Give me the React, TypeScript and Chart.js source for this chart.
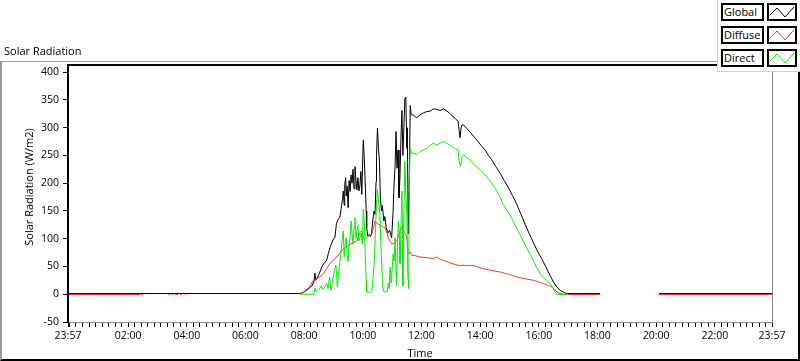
import React, { useEffect, useRef } from 'react';
import { Chart, registerables } from 'chart.js';

Chart.register(...registerables);

const FONT = '"Open Sans", "Noto Sans", sans-serif';

// Time in minutes since midnight (-3 = 23:57 previous day, 1437 = 23:57)
const xMin = -3;
const xMax = 1437;
const xMajorValues = [-3, 120, 240, 360, 480, 600, 720, 840, 960, 1080, 1200, 1320, 1437];
const xMajorLabels = ['23:57', '02:00', '04:00', '06:00', '08:00', '10:00', '12:00', '14:00', '16:00', '18:00', '20:00', '22:00', '23:57'];
const yTickValues = [-50, 0, 50, 100, 150, 200, 250, 300, 350, 400];
const yMin = -50;
const yMax = 413;

const seriesLabels = ['Global', 'Diffuse', 'Direct'];
const seriesColors = ['#000000', '#ff3030', '#00ee00'];

// [minute, W/m2]
const globalPoints: [number, number | null][] = [
  [-3, 1.3], [470, 1.3], [478, 3], [486, 8], [495, 14], [500, 22], [502, 38], [504, 25], [510, 35], [516, 49],
  [520, 55], [526, 61], [530, 75], [533, 84], [536, 91], [540, 100], [543, 102], [546, 127], [550, 136], [553, 138],
  [555, 150], [557, 162], [559, 175], [560, 186], [562, 160], [563, 198], [565, 210], [566, 177], [568, 195], [570, 156],
  [572, 205], [574, 185], [576, 215], [578, 200], [580, 225], [582, 190], [584, 230], [586, 205], [588, 188], [590, 210],
  [592, 186], [594, 195], [596, 221], [598, 180], [600, 250], [601, 278], [603, 245], [605, 200], [607, 150], [608, 120],
  [610, 105], [613, 108], [616, 104], [618, 110], [620, 130], [623, 150], [625, 144], [627, 203], [628, 250], [630, 299],
  [632, 263], [634, 240], [636, 174], [638, 150], [640, 160], [643, 132], [645, 140], [648, 120], [651, 110], [655, 115],
  [659, 102], [662, 150], [664, 200], [666, 230], [668, 293], [670, 227], [672, 260], [674, 174], [676, 210], [678, 280],
  [680, 331], [682, 250], [684, 300], [686, 352], [688, 355], [690, 263], [691, 300], [693, 109], [695, 200], [697, 340],
  [699, 323], [703, 323], [710, 318], [717, 323], [724, 327], [731, 329], [738, 330], [744, 334], [751, 333], [758, 331],
  [765, 334], [772, 330], [778, 326], [784, 320], [789, 317], [795, 311], [797, 295], [799, 282], [801, 300], [803, 305],
  [806, 305], [812, 299], [819, 293], [826, 285], [833, 278], [842, 268], [850, 260], [857, 250], [864, 242], [872, 230],
  [881, 218], [889, 205], [898, 192], [906, 178], [915, 162], [923, 145], [932, 126], [940, 110], [949, 93], [957, 78],
  [966, 64], [974, 50], [983, 34], [990, 22], [997, 13], [1004, 7], [1010, 4], [1015, 2], [1020, 1.3], [1085, 1.3],
  [1086, null], [1205, null], [1206, 1.3], [1437, 1.3],
];

const diffusePoints: [number, number | null][] = [
  [-3, -0.5], [144, -0.5], [145, null], [146, -0.5], [150, -0.5], [151, null], [202, -0.5], [205.6, -0.5], [207, null],
  [209, -0.5], [212.4, -0.5], [214, null], [215.8, -0.5], [222.6, -0.5], [224, null], [226, -0.5], [229.5, -0.5], [232, null],
  [236.3, -0.5], [239.8, -0.5], [241, null], [474, 0], [478, 4], [490, 12], [499, 25], [506, 28], [512, 31], [520, 38],
  [526, 46], [535, 58], [547, 67], [553, 74], [560, 82], [567, 86], [574, 90], [580, 93], [588, 96], [594, 111], [598, 114],
  [601, 102], [605, 100], [608, 102], [612, 104], [618, 108], [622, 120], [625, 132], [628, 128], [632, 126], [640, 122],
  [645, 120], [649, 112], [652, 102], [656, 95], [659, 90], [664, 92], [669, 96], [673, 105], [676, 114], [680, 122],
  [683, 114], [687, 110], [690, 102], [693, 73], [697, 76], [700, 70], [705, 70], [717, 67], [731, 66], [744, 64],
  [751, 67], [758, 63], [765, 61], [780, 56], [795, 52], [810, 52], [826, 52], [846, 46], [863, 43], [881, 40], [898, 36],
  [915, 31], [932, 28], [949, 25], [960, 22], [969, 19], [980, 16], [986, 13], [992, 9], [997, 4], [1003, 1], [1010, 0],
  [1015, -0.5], [1085, -0.5], [1086, null], [1205, null], [1206, -0.5], [1437, -0.5],
];

const directPoints: [number, number | null][] = [
  [472, 0], [500, 0], [502, 11], [505, 5], [510, 8], [515, 15], [518, 8], [522, 12], [526, 20], [529, 10], [532, 31],
  [535, 7], [538, 25], [542, 43], [545, 52], [548, 13], [552, 50], [555, 73], [558, 100], [560, 114], [562, 67], [564, 90],
  [566, 102], [568, 70], [570, 58], [572, 90], [574, 102], [576, 132], [578, 110], [580, 90], [582, 120], [584, 138],
  [586, 100], [588, 114], [590, 125], [592, 96], [595, 105], [597, 110], [599, 90], [601, 153], [603, 132], [605, 70],
  [607, 25], [608, 4], [612, 4], [616, 3], [619, 5], [621, 30], [624, 67], [626, 120], [628, 160], [630, 189], [632, 170],
  [635, 144], [637, 90], [639, 49], [641, 13], [643, 5], [646, 4], [650, 5], [652, 20], [654, 10], [656, 49], [658, 20],
  [660, 45], [662, 73], [664, 60], [666, 102], [668, 40], [669, 15], [671, 90], [673, 132], [675, 100], [676, 55],
  [678, 120], [680, 186], [681, 120], [682, 15], [684, 150], [686, 239], [688, 180], [690, 144], [692, 37], [694, 10],
  [695, 200], [697, 263], [700, 254], [703, 254], [710, 252], [717, 257], [724, 260], [731, 263], [738, 268], [744, 272],
  [751, 269], [758, 272], [765, 275], [772, 272], [778, 269], [786, 264], [795, 260], [797, 240], [800, 230], [803, 248],
  [806, 251], [812, 247], [819, 242], [826, 235], [836, 227], [845, 220], [853, 212], [862, 202], [870, 192], [879, 178],
  [887, 162], [896, 150], [904, 138], [913, 122], [921, 108], [930, 93], [938, 79], [947, 64], [955, 49], [962, 38],
  [969, 31], [976, 25], [983, 19], [988, 13], [993, 4], [996, 0], [1020, 0],
];

function buildXTicks(): number[] {
  const t: number[] = [xMin];
  for (let h = 0; h < 1320; h += 120) {
    for (let k = 0; k < 9; k++) t.push(h + (k * 120) / 9);
  }
  for (let k = 0; k < 9; k++) t.push(1320 + k * 13);
  t.push(xMax);
  return t;
}

const toXY = (pts: [number, number | null][]) => pts.map(([x, y]) => ({ x, y }));

const framePlugin = {
  id: 'lvFrame',
  afterDraw(chart: any) {
    const { ctx, chartArea: a } = chart;
    ctx.save();
    ctx.fillStyle = '#000';
    ctx.fillRect(a.left - 1, a.top - 1, a.right - a.left + 1, 2);
    ctx.fillRect(a.left - 1, a.top - 1, 2, a.bottom - a.top + 1);
    ctx.fillStyle = '#8c8c8c';
    ctx.fillRect(a.right, a.top - 1, 1, a.bottom - a.top + 2);
    ctx.fillRect(a.left + 1, a.bottom, a.right - a.left, 1);
    ctx.fillStyle = '#000';
    ctx.font = `11px ${FONT}`;
    ctx.textAlign = 'center';
    ctx.textBaseline = 'middle';
    ctx.fillText('Time', (a.left + a.right) / 2, 354);
    ctx.translate(30, 187);
    ctx.rotate(-Math.PI / 2);
    ctx.fillText('Solar Radiation (W/m2)', 0, 0);
    ctx.restore();
  },
};

function Swatch({ color }: { color: string }) {
  return (
    <svg width={26} height={14} style={{ display: 'block' }}>
      <polyline points="1,10 8,3 16,12 25,2" fill="none" stroke={color} strokeWidth={1} />
    </svg>
  );
}

export default function App() {
  const ref = useRef<HTMLCanvasElement>(null);

  useEffect(() => {
    document.body.style.margin = '0';
    const xTicks = buildXTicks();
    const tickFont = { family: FONT, size: 10.5 };
    const chart = new Chart(ref.current as HTMLCanvasElement, {
      type: 'line',
      data: {
        datasets: [
          { label: seriesLabels[2], data: toXY(directPoints), borderColor: seriesColors[2], order: 0 },
          { label: seriesLabels[1], data: toXY(diffusePoints), borderColor: seriesColors[1], order: 1 },
          { label: seriesLabels[0], data: toXY(globalPoints), borderColor: seriesColors[0], order: 2 },
        ] as any,
      },
      options: {
        animation: false,
        responsive: false,
        maintainAspectRatio: false,
        parsing: true,
        layout: { padding: { top: 65, right: 28, left: 0, bottom: 0 } },
        plugins: { legend: { display: false }, tooltip: { enabled: false }, title: { display: false } },
        elements: {
          point: { radius: 0, hoverRadius: 0 },
          line: { borderWidth: 1, tension: 0, spanGaps: false } as any,
        },
        scales: {
          x: {
            type: 'linear',
            min: xMin,
            max: xMax,
            afterFit: (s: any) => { s.height = 39; },
            afterBuildTicks: (s: any) => { s.ticks = xTicks.map((v) => ({ value: v })); },
            ticks: {
              autoSkip: false,
              maxRotation: 0,
              minRotation: 0,
              padding: 3,
              color: '#000',
              font: tickFont,
              callback: (v: any) => {
                const i = xMajorValues.indexOf(Number(v));
                return i >= 0 ? xMajorLabels[i] : '';
              },
            },
            grid: { drawOnChartArea: false, drawTicks: true, tickLength: 5, color: '#000' },
            border: { display: false },
          },
          y: {
            type: 'linear',
            min: yMin,
            max: yMax,
            afterFit: (s: any) => { s.width = 68; },
            afterBuildTicks: (s: any) => { s.ticks = yTickValues.map((v) => ({ value: v })); },
            ticks: { padding: 4, color: '#000', font: tickFont, callback: (v: any) => String(v) },
            grid: { drawOnChartArea: false, drawTicks: true, tickLength: 5, color: '#000' },
            border: { display: false },
          },
        },
      } as any,
      plugins: [framePlugin],
    });
    return () => chart.destroy();
  }, []);

  return (
    <div style={{ position: 'fixed', left: 0, top: 0, width: 800, height: 361, background: '#fff', overflow: 'hidden', fontFamily: FONT }}>
      <div
        style={{
          position: 'absolute', left: 0, top: 61, width: 800, height: 300, boxSizing: 'border-box',
          borderLeft: '2px solid #9a9a9a', borderTop: '1px solid #9a9a9a', borderRight: '2px solid #000', borderBottom: '2px solid #000',
        }}
      />
      <canvas ref={ref} width={800} height={361} style={{ position: 'absolute', left: 0, top: 0, display: 'block' }} />
      <div style={{ position: 'absolute', left: 4, top: 44, fontSize: 11, lineHeight: '14px', color: '#000' }}>Solar Radiation</div>
      <div
        style={{
          position: 'absolute', left: 717, top: 0, width: 83, height: 72, background: '#fff', boxSizing: 'border-box',
          borderLeft: '1px solid #d0d0d0', borderBottom: '1px solid #d0d0d0',
        }}
      >
        {seriesLabels.map((label, i) => (
          <React.Fragment key={label}>
            <div
              style={{
                position: 'absolute', left: 3, top: 3 + i * 23, width: 43, height: 18, boxSizing: 'border-box',
                border: '2px solid #000', fontSize: 11, lineHeight: '14px', paddingLeft: 1, color: '#000', background: '#fff',
              }}
            >
              {label}
            </div>
            <div
              style={{
                position: 'absolute', left: 49, top: 3 + i * 23, width: 30, height: 18, boxSizing: 'border-box',
                border: '2px solid #000', background: '#fff',
              }}
            >
              <Swatch color={seriesColors[i]} />
            </div>
          </React.Fragment>
        ))}
      </div>
    </div>
  );
}
